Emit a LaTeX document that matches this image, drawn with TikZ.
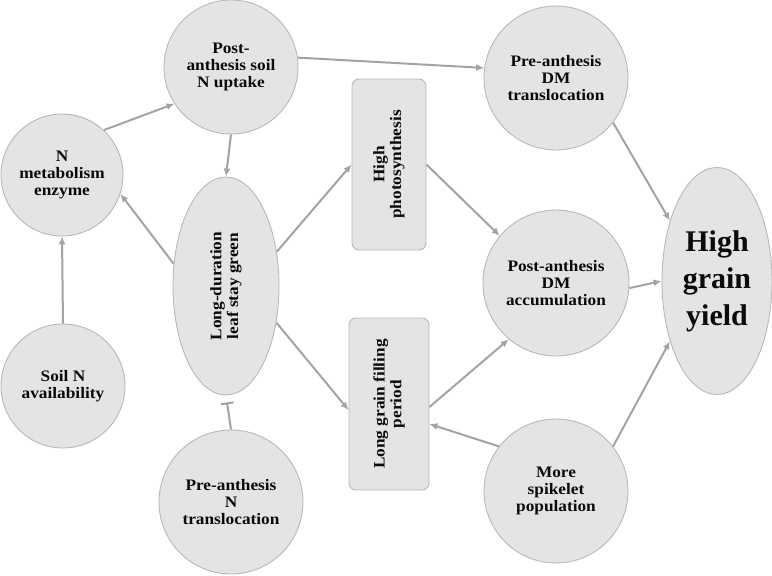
\documentclass[tikz,border=0pt]{standalone}
\usepackage{fontspec}
\setmainfont{Liberation Serif}
\newfontfamily\widefont{Liberation Serif}[FakeStretch=1.08]
\usetikzlibrary{shapes.geometric,arrows.meta}
\definecolor{nodefill}{HTML}{E4E4E4}
\definecolor{nodeline}{HTML}{B8B8B8}
\definecolor{linkcol}{HTML}{A3A3A3}
\definecolor{txtcol}{HTML}{0A0A0A}
\tikzset{
  circ/.style={circle,fill=nodefill,draw=nodeline,line width=0.9pt,align=center,
    text=txtcol,font=\widefont\bfseries\fontsize{16}{16.8}\selectfont,inner sep=0pt},
  oval/.style={ellipse,fill=nodefill,draw=nodeline,line width=0.9pt,align=center,
    text=txtcol,inner sep=0pt},
  rbox/.style={rectangle,rounded corners=7pt,fill=nodefill,draw=nodeline,line width=0.9pt,
    inner sep=0pt},
  vtext/.style={rotate=90,align=center,text=txtcol,font=\widefont\bfseries\fontsize{16}{16.8}\selectfont,inner sep=0pt},
  link/.style={draw=linkcol,line width=2pt,-{Latex[length=8pt,width=7pt]}},
  inhib/.style={draw=linkcol,line width=2pt,-{Bar[width=13pt,line width=2pt]}}
}
\begin{document}
\begin{tikzpicture}[x=1pt,y=-1pt]
\useasboundingbox (0,0) rectangle (772,576);
% nodes
\node[circ,minimum size=134pt] (soilup) at (231,67) {Post-\\anthesis soil\\N uptake};
\node[circ,minimum size=122pt] (enz) at (62,175) {N\\metabolism\\enzyme};
\node[circ,minimum size=124pt] (avail) at (63,386) {Soil N\\availability};
\node[oval,minimum width=106pt,minimum height=218pt] (leaf) at (226,286) {};
\node[vtext] (leaft) at (226,286) {Long-duration\\leaf stay green};
\node[circ,minimum size=144pt] (ntrans) at (231,502) {Pre-anthesis\\N\\translocation};
\node[rbox,minimum width=74pt,minimum height=171pt] (photo) at (389,164.5) {};
\node[vtext] (photot) at (389,164.5) {High\\photosynthesis};
\node[rbox,minimum width=80pt,minimum height=172pt] (fill) at (389,404) {};
\node[vtext] (fillt) at (389,404) {Long grain filling\\period};
\node[circ,minimum size=144pt] (dmtrans) at (556,78) {Pre-anthesis\\DM\\translocation};
\node[circ,minimum size=146pt] (dmacc) at (556,283) {Post-anthesis\\DM\\accumulation};
\node[circ,minimum size=144pt] (spike) at (556,491) {More\\spikelet\\population};
\node[oval,minimum width=110pt,minimum height=227pt,font=\bfseries\fontsize{30}{37}\selectfont] (yield) at (717,281) {High\\grain\\yield};
% connectors
\draw[link] (enz.47) -- (soilup.213);
\draw[link] (soilup.8) -- (dmtrans.172);
\draw[link] (soilup.south) -- (leaf.north);
\draw[link] (leaf.157) -- (enz.-18);
\draw[link] (avail.north) -- (enz.south);
\draw[link] (leaf.34) -- (photo.west);
\draw[link] (leaf.-36) -- ([yshift=-6pt]fill.west);
\draw[inhib,shorten >=7pt] (ntrans.north) -- (leaf.south);
\draw[link] (photo.east) -- (dmacc.140);
\draw[link] ([yshift=-3pt]fill.east) -- (dmacc.-130);
\draw[link] (spike.142) -- ([yshift=-20pt]fill.east);
\draw[link] (dmtrans.-38) -- (yield.128);
\draw[link] (dmacc.-4) -- (yield.west);
\draw[link] (spike.38) -- (yield.-128);
\end{tikzpicture}
\end{document}
